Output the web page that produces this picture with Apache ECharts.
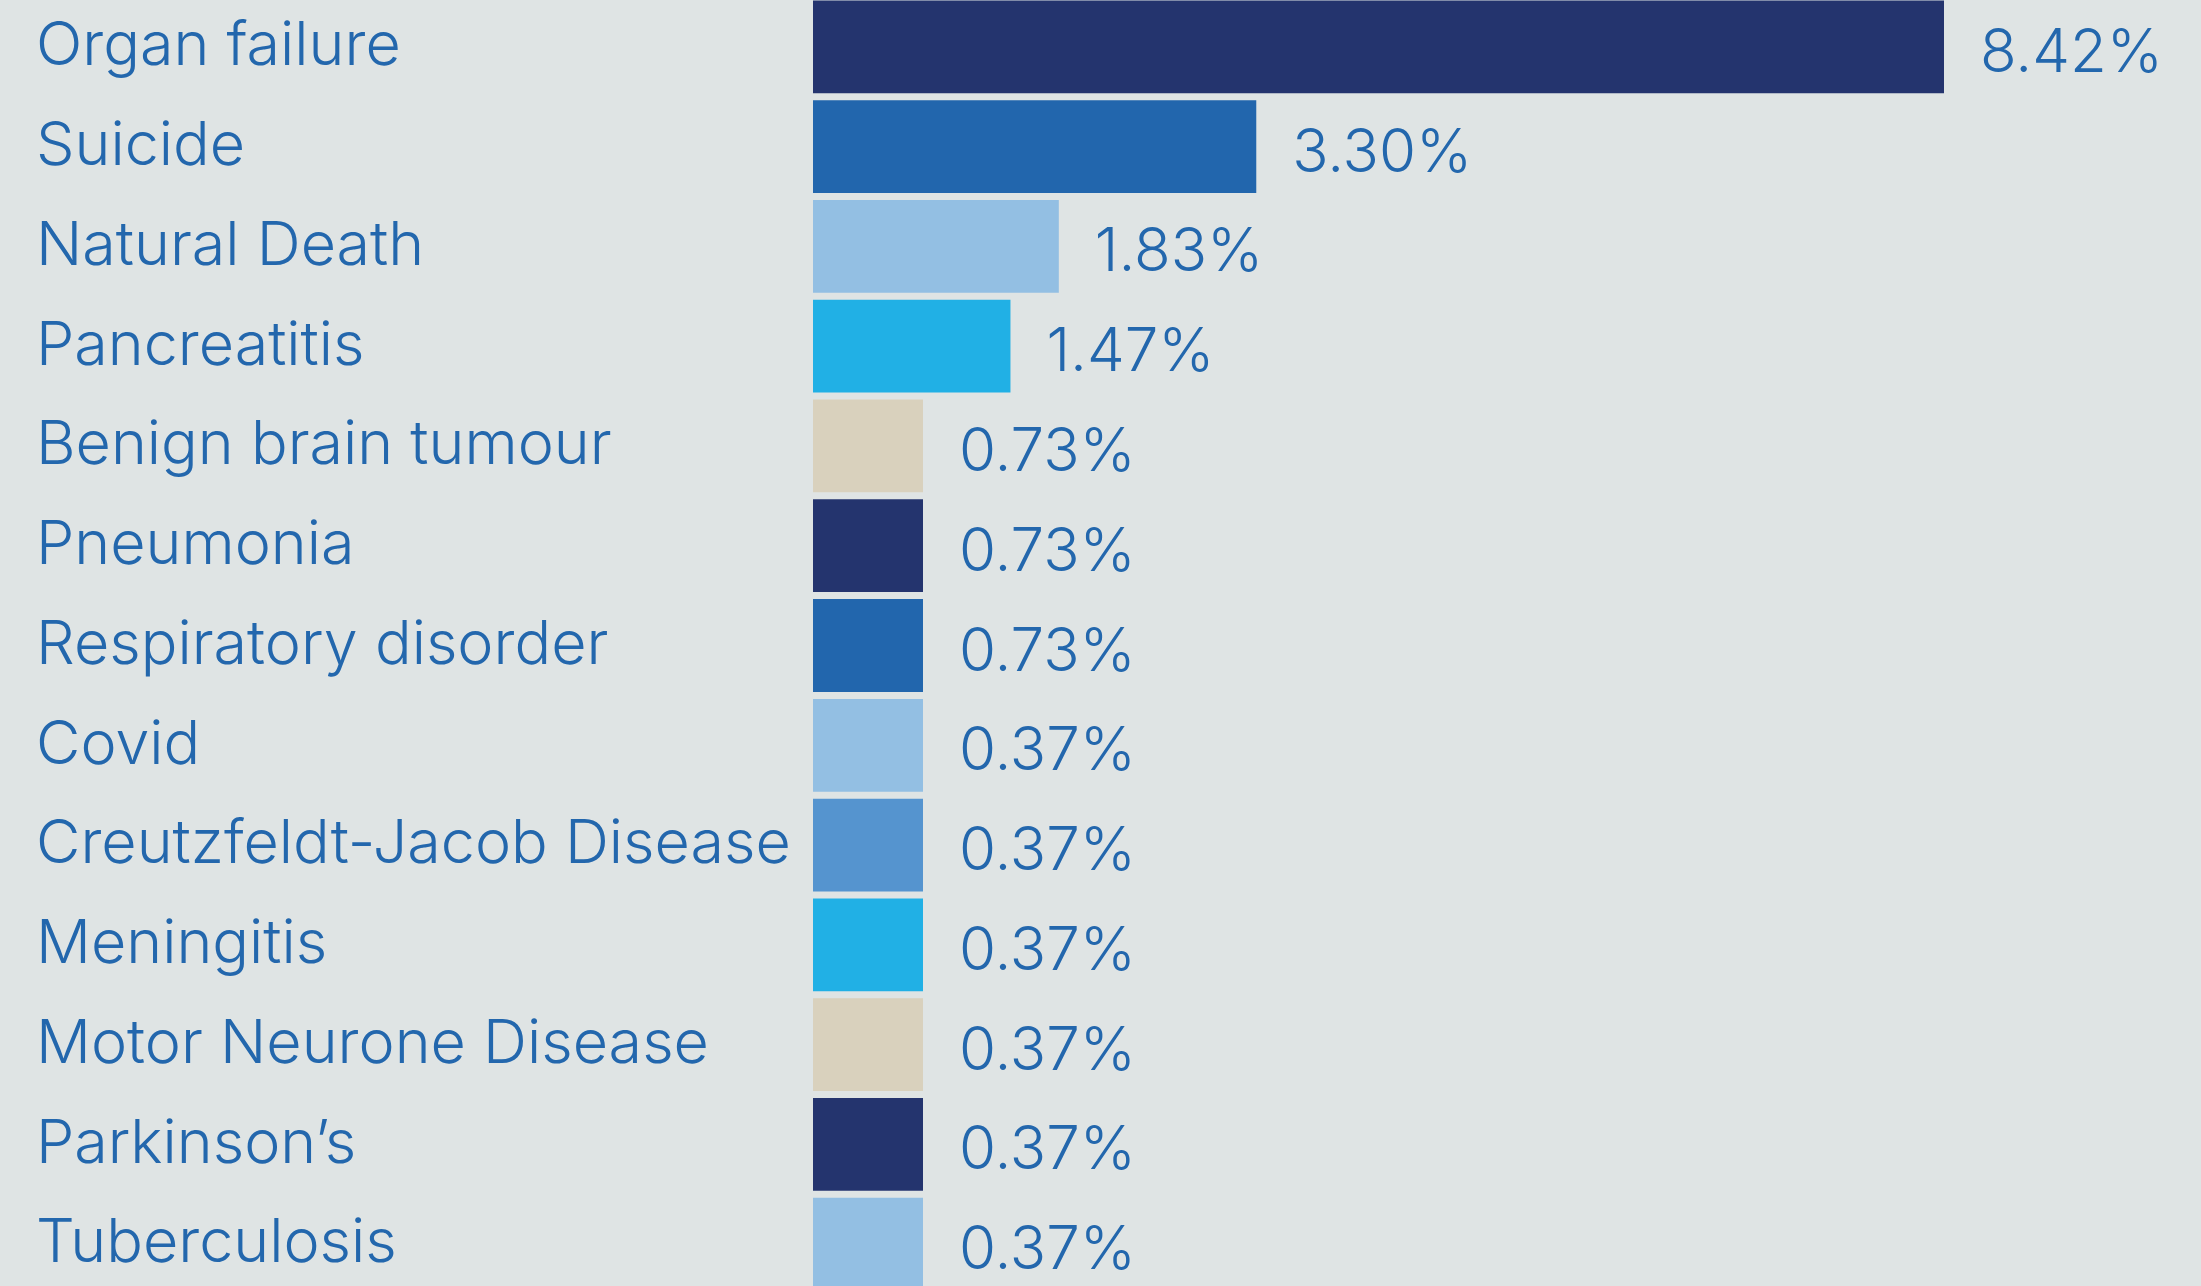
<!DOCTYPE html>
<html>
<head>
<meta charset="utf-8">
<script src="https://cdn.jsdelivr.net/npm/echarts@6/dist/echarts.min.js"></script>
<style>
  html, body { margin: 0; padding: 0; background: #dfe4e4; }
  #chart { width: 2201px; height: 1286px; }
</style>
</head>
<body>
<div id="chart"></div>
<script>
// causes of death, share of cases (%)
const causes = [
  'Organ failure', 'Suicide', 'Natural Death', 'Pancreatitis',
  'Benign brain tumour', 'Pneumonia', 'Respiratory disorder', 'Covid',
  'Creutzfeldt-Jacob Disease', 'Meningitis', 'Motor Neurone Disease',
  'Parkinson\u2019s', 'Tuberculosis'
]
const shares = [8.42, 3.30, 1.83, 1.47, 0.73, 0.73, 0.73, 0.37, 0.37, 0.37, 0.37, 0.37, 0.37]

// bar colours, row by row
const palette = [
  '#24346e', '#2266ad', '#93bfe3', '#21b0e5', '#d9d1bd', '#24346e', '#2266ad',
  '#93bfe3', '#5594cf', '#21b0e5', '#d9d1bd', '#24346e', '#93bfe3'
]

const textColor = '#2367ad'
const fontFamily = 'Inter, "Liberation Sans", Arial, sans-serif'

const myChart = echarts.init(document.getElementById('chart'))
myChart.setOption({
  backgroundColor: '#dfe4e4',
  animation: false,
  grid: { left: 813, right: 257, top: -3, height: 1297, outerBoundsMode: 'none', containLabel: false },
  xAxis: {
    type: 'value',
    min: 0,
    max: 8.42,
    show: false
  },
  yAxis: {
    type: 'category',
    data: causes,
    inverse: true,
    axisLine: { show: false },
    axisTick: { show: false },
    splitLine: { show: false },
    axisLabel: {
      align: 'left',
      margin: 777,
      color: textColor,
      fontSize: 61,
      fontWeight: 300,
      fontFamily: fontFamily
    }
  },
  series: [{
    type: 'bar',
    data: shares.map((v, i) => ({ value: v, itemStyle: { color: palette[i] } })),
    barCategoryGap: '7%',
    barMinHeight: 110,
    label: {
      show: true,
      position: 'right',
      distance: 36,
      offset: [0, 7],
      color: textColor,
      fontSize: 60,
      fontWeight: 300,
      fontFamily: fontFamily,
      formatter: p => p.value.toFixed(2) + '%'
    }
  }]
})
window.addEventListener('resize', () => { myChart.resize() })
</script>
</body>
</html>
